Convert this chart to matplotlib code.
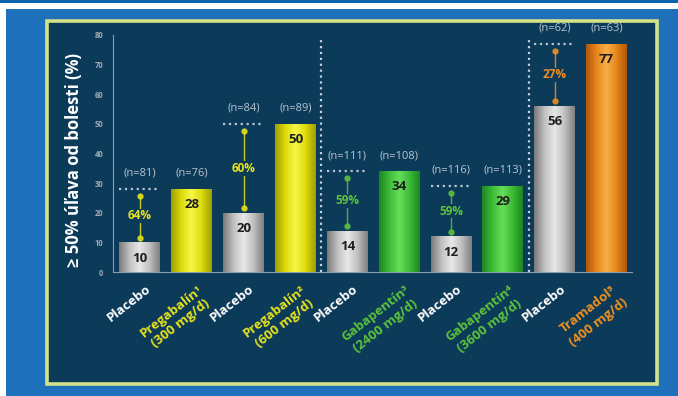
import numpy as np
import matplotlib
matplotlib.use('Agg')
import matplotlib.pyplot as plt
from matplotlib.patches import Rectangle
from matplotlib.colors import LinearSegmentedColormap

# Daten aus dem Diagramm
categories = ['Placebo', 'Pregabalín¹\n(300 mg/d)', 'Placebo', 'Pregabalín²\n(600 mg/d)',
              'Placebo', 'Gabapentín³\n(2400 mg/d)', 'Placebo', 'Gabapentín⁴\n(3600 mg/d)',
              'Placebo', 'Tramadol⁵\n(400 mg/d)']
values = [10, 28, 20, 50, 14, 34, 12, 29, 56, 77]
n_counts = [81, 76, 84, 89, 111, 108, 116, 113, 62, 63]
percents = ['64%', '60%', '59%', '59%', '27%']
y_ticks = [0, 10, 20, 30, 40, 50, 60, 70, 80]

# Farben
yellow = '#e6e21c'
green = '#5cc23a'
orange = '#f0901e'
pair_colors = [yellow, yellow, green, green, orange]
grad_gray = ['#7a7a7a', '#c0c0c0', '#e8e8e8', '#c0c0c0', '#808080']
grad_yellow = ['#a0a000', '#dcdc0c', '#f6f64a', '#dcdc0c', '#a0a000']
grad_green = ['#1e8624', '#3cbc36', '#68de5c', '#3cbc36', '#1e8624']
grad_orange = ['#b0580c', '#e6861c', '#f8ae46', '#e6861c', '#b0580c']
pair_grads = [grad_yellow, grad_yellow, grad_green, grad_green, grad_orange]
panel_color = '#0c3b5a'

plt.rcParams['font.family'] = ['Open Sans', 'DejaVu Sans']

W, H = 678, 396
fig = plt.figure(figsize=(W / 100, H / 100), dpi=100)
fig.patch.set_facecolor('#1f70bb')


def fig_rect(x0, y0, x1, y1, **kw):
    # Rechteck in Pixelkoordinaten (Ursprung oben links)
    r = Rectangle((x0 / W, 1 - y1 / H), (x1 - x0) / W, (y1 - y0) / H,
                  transform=fig.transFigure, zorder=-5, **kw)
    fig.add_artist(r)
    return r


fig_rect(0, 0, W, 3, facecolor='#0b62ad', edgecolor='none')
fig_rect(0, 3, W, 9, facecolor='white', edgecolor='none')
fig_rect(0, 3, 6, H, facecolor='white', edgecolor='none')
fig_rect(47, 21, 657, 384, facecolor=panel_color, edgecolor='#d4e288', linewidth=2.6)

ax = fig.add_axes([113 / W, 1 - 272 / H, (632 - 113) / W, (272 - 35) / H])
ax.set_facecolor('none')

x = np.arange(len(values))
width = 0.79
bars = ax.bar(x, values, width=width, color='#bbbbbb', zorder=2)

# Zylinder-Verlauf in jedem Balken
for i, b in enumerate(bars):
    colors = grad_gray if i % 2 == 0 else pair_grads[i // 2]
    cmap = LinearSegmentedColormap.from_list('g%d' % i, colors)
    grad = np.linspace(0, 1, 64).reshape(1, -1)
    im = ax.imshow(grad, extent=[b.get_x(), b.get_x() + b.get_width(), 0, b.get_height()],
                   cmap=cmap, aspect='auto', zorder=3)
    im.set_clip_path(b)

ax.set_xlim(-0.52, 9.49)
ax.set_ylim(0, 80)

# Werte in den Balken
for i, v in enumerate(values):
    ax.text(x[i], v - 5.3, str(v), ha='center', va='center', fontsize=9.5,
            fontweight='bold', color='#1e1e1e', zorder=5)

# Paare: n-Angaben, gepunktete Linie, Pfeil und Prozent
for p in range(5):
    i0, i1 = 2 * p, 2 * p + 1
    top = values[i1]
    low = values[i0]
    col = pair_colors[p]
    for i in (i0, i1):
        ax.text(x[i], top + 5.3, '(n=%d)' % n_counts[i], ha='center', va='center',
                fontsize=8, color='#b8c4d0', zorder=5, clip_on=False)
    ax.plot([x[i0] - width / 2, x[i0] + width / 2], [top, top], ls=':', lw=1.6,
            color='#b8c4d0', zorder=4, clip_on=False)
    ax.plot([x[i0], x[i0]], [low + 1.6, top - 2.4], color=col, lw=1.0, alpha=0.85,
            marker='o', ms=3.5, zorder=4)
    ax.text(x[i0], (low + top) / 2, percents[p], ha='center', va='center', fontsize=8.5,
            fontweight='bold', color=col, zorder=6,
            bbox=dict(facecolor=panel_color, edgecolor='none', pad=0.5))

# Trennlinien zwischen den Studien
ax.vlines([3.5, 7.5], 0, 79, colors='#c4d0dc', linestyles=':', lw=1.6, zorder=1)

# Beschriftungen der x-Achse
label_colors = ['white', yellow, 'white', yellow, 'white', green, 'white', green, 'white', orange]
for i, lab in enumerate(categories):
    ax.text(x[i] + 0.1, -3.6, lab, rotation=38, rotation_mode='anchor', ha='right', va='top',
            multialignment='center', fontsize=9.5, fontweight='bold', color=label_colors[i],
            linespacing=1.3, clip_on=False)

# Achsen
for s in ['top', 'right']:
    ax.spines[s].set_visible(False)
for s in ['left', 'bottom']:
    ax.spines[s].set_color('#8c9cac')
    ax.spines[s].set_linewidth(0.8)
ax.set_xticks([])
ax.set_yticks(y_ticks)
ax.tick_params(axis='y', colors='#a0aab6', labelsize=5.5, length=0, pad=7)
for t in ax.get_yticklabels():
    t.set_fontweight('bold')

fig.text(74 / W, 1 - 160 / H, '≥ 50% úľava od bolesti (%)', rotation=90, ha='center',
         va='center', fontsize=12, fontweight='bold', color='white')

fig.savefig('out.png', dpi=100, facecolor=fig.get_facecolor())
